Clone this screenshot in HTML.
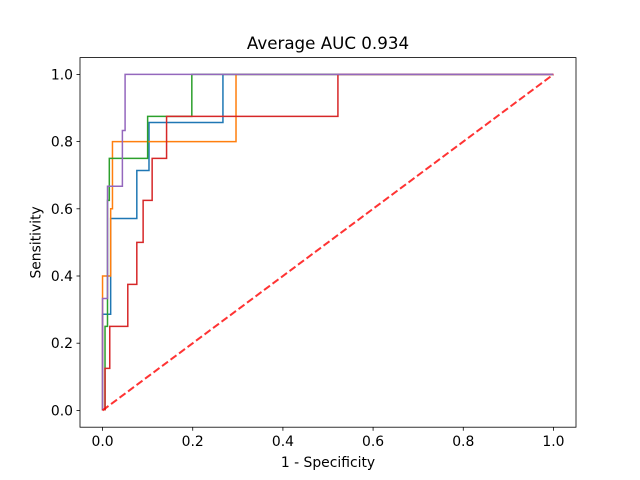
<!DOCTYPE html>
<html><head><meta charset="utf-8"><style>
body{margin:0;background:#fff;}
svg{display:block;font-family:"DejaVu Sans","Liberation Sans",sans-serif;}
</style></head><body>
<svg id="chart" width="640" height="480" viewBox="0 0 640 480">
<rect width="640" height="480" fill="#fff"/>
<text x="328" y="49" text-anchor="middle" font-size="16.7" fill="#000">Average AUC 0.934</text>
<g id="curves"></g>
<rect x="80" y="57.6" width="496" height="369.6" fill="none" stroke="#000" stroke-width="0.8"/>
<g id="xticks"></g>
<g id="yticks"></g>
<text x="328" y="467" text-anchor="middle" font-size="13.9">1 - Specificity</text>
<text transform="translate(40.5,242.4) rotate(-90)" text-anchor="middle" font-size="13.9">Sensitivity</text>
</svg>
<script>
const ticks=[0,0.2,0.4,0.6,0.8,1.0];
const tickLabels=["0.0","0.2","0.4","0.6","0.8","1.0"];
const blueX=[0,0,0.018,0.018,0.076,0.076,0.103,0.103,0.267,0.267,1];
const blueY=[0,0.286,0.286,0.571,0.571,0.714,0.714,0.857,0.857,1,1];
const orangeX=[0,0,0.018,0.018,0.022,0.022,0.296,0.296,1];
const orangeY=[0,0.4,0.4,0.6,0.6,0.8,0.8,1,1];
const greenX=[0.0055,0.0055,0.011,0.011,0.015,0.015,0.1,0.1,0.198,0.198,1];
const greenY=[0,0.25,0.25,0.625,0.625,0.75,0.75,0.875,0.875,1,1];
const redX=[0.0055,0.0055,0.016,0.016,0.056,0.056,0.076,0.076,0.09,0.09,0.11,0.11,0.142,0.142,0.522,0.522,1];
const redY=[0,0.125,0.125,0.25,0.25,0.375,0.375,0.5,0.5,0.625,0.625,0.75,0.75,0.875,0.875,1,1];
const purpleX=[0,0,0.011,0.011,0.044,0.044,0.05,0.05,1];
const purpleY=[0,0.333,0.333,0.667,0.667,0.833,0.833,1,1];
const diagX=[0,1];
const diagY=[0,1];
const NS='http://www.w3.org/2000/svg';
function sx(v){return 80+(v+0.05)/1.1*496;}
function sy(v){return 427.2-(v+0.05)/1.1*369.6;}
const g=document.getElementById('curves');
function line(xs,ys,color,name,extra){
  const p=document.createElementNS(NS,'polyline');
  p.setAttribute('points',xs.map((x,i)=>sx(x)+','+sy(ys[i])).join(' '));
  p.setAttribute('fill','none');p.setAttribute('stroke',color);
  p.setAttribute('stroke-width',extra?2:1.5);
  if(extra){p.setAttribute('stroke-dasharray','7.4,3.2');p.setAttribute('stroke-opacity','0.8');}
  
  
  g.appendChild(p);
}
line(blueX,blueY,'#1f77b4','roc-curve-blue');
line(orangeX,orangeY,'#ff7f0e','roc-curve-orange');
line(greenX,greenY,'#2ca02c','roc-curve-green');
line(redX,redY,'#d62728','roc-curve-red');
line(purpleX,purpleY,'#9467bd','roc-curve-purple');
line(diagX,diagY,'#ff0000','chance-diagonal',true);
const xt=document.getElementById('xticks'),yt=document.getElementById('yticks');
ticks.forEach((t,i)=>{
  const l=document.createElementNS(NS,'line');
  l.setAttribute('x1',sx(t));l.setAttribute('x2',sx(t));l.setAttribute('y1',427.2);l.setAttribute('y2',430.7);l.setAttribute('stroke','#000');l.setAttribute('stroke-width',0.8);
  
  
  xt.appendChild(l);
  const tx=document.createElementNS(NS,'text');
  tx.setAttribute('x',sx(t));tx.setAttribute('y',446);tx.setAttribute('text-anchor','middle');tx.setAttribute('font-size','13.9');
  tx.textContent=tickLabels[i];
  
  
  xt.appendChild(tx);
  const l2=document.createElementNS(NS,'line');
  l2.setAttribute('x1',76.5);l2.setAttribute('x2',80);l2.setAttribute('y1',sy(t));l2.setAttribute('y2',sy(t));l2.setAttribute('stroke','#000');l2.setAttribute('stroke-width',0.8);
  
  
  yt.appendChild(l2);
  const ty=document.createElementNS(NS,'text');
  ty.setAttribute('x',73);ty.setAttribute('y',sy(t)+5);ty.setAttribute('text-anchor','end');ty.setAttribute('font-size','13.9');
  ty.textContent=tickLabels[i];
  
  
  yt.appendChild(ty);
});
</script>
</body></html>
